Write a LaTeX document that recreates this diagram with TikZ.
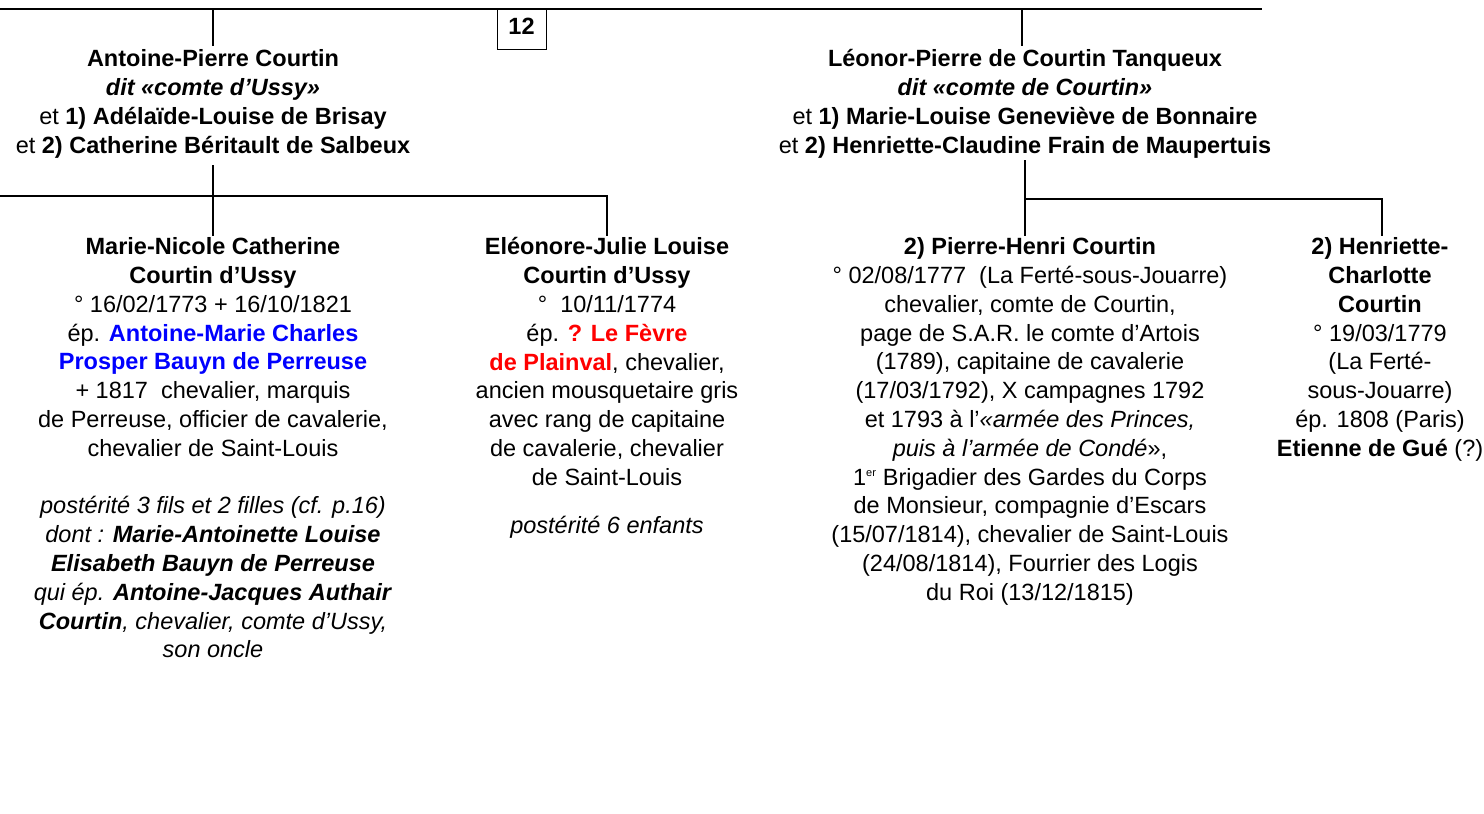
\documentclass[tikz,border=0pt]{standalone}
\usepackage{fontspec}
\setmainfont{Liberation Sans}
\definecolor{myblue}{RGB}{0,0,255}
\definecolor{myred}{RGB}{255,0,0}
\newcommand{\fs}{\rule{0pt}{17pt}}
\begin{document}
\begin{tikzpicture}[x=1pt,y=-1pt,
  txt/.style={align=center,inner sep=0pt,anchor=north,font=\fontsize{23.5}{28.8}\selectfont},
  conn/.style={line width=1.8pt,black},
  topline/.style={line width=2.4pt,black}]
\useasboundingbox (0,0) rectangle (1484,814);
% top line
\coordinate (tl) at (0,9);
\coordinate (tr) at (1262,9);
\draw[topline] (tl) -- (tr);
\node[draw,line width=1pt,fill=white,minimum width=49pt,minimum height=40pt,anchor=north,inner sep=0pt] (pg) at (521.5,9) {};
\node[inner sep=0pt,font=\fontsize{23.5}{28.8}\selectfont\bfseries] (pgt) at ([yshift=3pt]pg.center) {12};
% parents
\node[txt] (lp) at (213,49.4) {\fs\textbf{Antoine-Pierre Courtin}\\
\textbf{\textit{dit «comte d’Ussy»}}\\
et \textbf{1) Adélaïde-Louise de Brisay}\\
et \textbf{2) Catherine Béritault de Salbeux}};
\node[txt] (rp) at (1025,49.4) {\fs\textbf{Léonor-Pierre de Courtin Tanqueux}\\
\textbf{\textit{dit «comte de Courtin»}}\\
et \textbf{1) Marie-Louise Geneviève de Bonnaire}\\
et \textbf{2) Henriette-Claudine Frain de Maupertuis}};
% children
\node[txt] (c1) at (213,237.5) {\fs\textbf{Marie-Nicole Catherine}\\
\textbf{Courtin d’Ussy}\\
° 16/02/1773 + 16/10/1821\\
ép. \textbf{\color{myblue}Antoine-Marie Charles}\\
\textbf{\color{myblue}Prosper Bauyn de Perreuse}\\
+ 1817 \ chevalier, marquis\\
de Perreuse, officier de cavalerie,\\
chevalier de Saint-Louis\\
\mbox{}\\
\textit{postérité 3 fils et 2 filles (cf. p.16)}\\
\textit{dont : \textbf{Marie-Antoinette Louise}}\\
\textit{\textbf{Elisabeth Bauyn de Perreuse}}\\
\textit{qui ép. \textbf{Antoine-Jacques Authair}}\\
\textit{\textbf{Courtin}, chevalier, comte d’Ussy,}\\
\textit{son oncle}};
\node[txt] (c2) at (607,237.5) {\fs\textbf{Eléonore-Julie Louise}\\
\textbf{Courtin d’Ussy}\\
° \ 10/11/1774\\
ép. \textbf{\color{myred}? Le Fèvre}\\
\textbf{\color{myred}de Plainval}, chevalier,\\
ancien mousquetaire gris\\
avec rang de capitaine\\
de cavalerie, chevalier\\
de Saint-Louis\\[19.2pt]
\textit{postérité 6 enfants}};
\node[txt] (c3) at (1030,237.5) {\fs\textbf{2) Pierre-Henri Courtin}\\
° 02/08/1777 \ (La Ferté-sous-Jouarre)\\
chevalier, comte de Courtin,\\
page de S.A.R. le comte d’Artois\\
(1789), capitaine de cavalerie\\
(17/03/1792), X campagnes 1792\\
et 1793 à l’\textit{«armée des Princes,}\\
\textit{puis à l’armée de Condé}»,\\
1\textsuperscript{\fontsize{11}{11}\selectfont er} Brigadier des Gardes du Corps\\
de Monsieur, compagnie d’Escars\\
(15/07/1814), chevalier de Saint-Louis\\
(24/08/1814), Fourrier des Logis\\
du Roi (13/12/1815)};
\node[txt] (c4) at (1380,237.5) {\fs\textbf{2) Henriette-}\\
\textbf{Charlotte}\\
\textbf{Courtin}\\
° 19/03/1779\\
(La Ferté-\\
sous-Jouarre)\\
ép. 1808 (Paris)\\
\textbf{Etienne de Gué} (?)};
% connectors
\draw[conn] (lp.north |- tl) -- ([yshift=3.4pt]lp.north);
\draw[conn] (1022,9) -- (1022,46);
\coordinate (lbar) at (0,196);
\coordinate (rbar) at (1025,199);
\draw[conn] (213,165) -- ([yshift=2pt]c1.north);
\draw[conn] (lbar) -- (c2.north |- lbar) -- ([yshift=2pt]c2.north);
\draw[conn] (1025,160) -- (1025,235.5);
\draw[conn] (rbar) -- (1382,199) -- (1382,235.5);
\end{tikzpicture}
\end{document}
